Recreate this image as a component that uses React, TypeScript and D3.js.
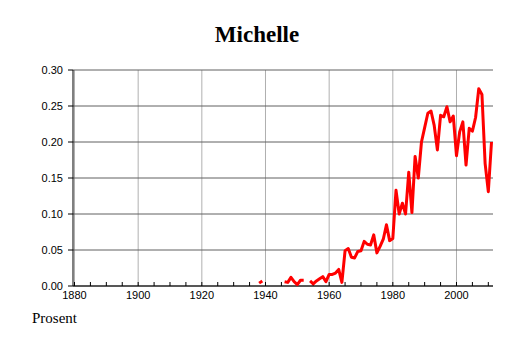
import React from "react";
import * as d3 from "d3";

const years: number[] = d3.range(1938, 2012);
const knownYears: number[] = [
  1938, 1939,
  1946, 1947, 1948, 1949, 1950, 1951, 1952,
  1954, 1955, 1956, 1957, 1958, 1959, 1960, 1961, 1962, 1963, 1964, 1965, 1966,
  1967, 1968, 1969, 1970, 1971, 1972, 1973, 1974, 1975, 1976, 1977, 1978, 1979,
  1980, 1981, 1982, 1983, 1984, 1985, 1986, 1987, 1988, 1989, 1990, 1991, 1992,
  1993, 1994, 1995, 1996, 1997, 1998, 1999, 2000, 2001, 2002, 2003, 2004, 2005,
  2006, 2007, 2008, 2009, 2010, 2011,
];
const knownValues: number[] = [
  0.004, 0.007,
  0.006, 0.005, 0.012, 0.006, 0.002, 0.008, 0.008,
  0.007, 0.003, 0.007, 0.010, 0.013, 0.006, 0.016, 0.016, 0.018, 0.023, 0.005, 0.049, 0.052,
  0.040, 0.039, 0.048, 0.049, 0.062, 0.058, 0.057, 0.071, 0.046, 0.055, 0.065, 0.085, 0.063,
  0.066, 0.133, 0.100, 0.115, 0.100, 0.158, 0.102, 0.180, 0.150, 0.200, 0.220, 0.240, 0.243,
  0.223, 0.189, 0.237, 0.235, 0.249, 0.228, 0.236, 0.181, 0.214, 0.228, 0.168, 0.219, 0.215,
  0.234, 0.274, 0.266, 0.170, 0.131, 0.200,
];
const xTickLabels: number[] = [1880, 1900, 1920, 1940, 1960, 1980, 2000];
const yTickValues: number[] = [0, 0.05, 0.1, 0.15, 0.2, 0.25, 0.3];
const title = "Michelle";
const yLabel = "Prosent";

type Pt = { year: number; v: number | null };

export default function App() {
  const valueByYear = new Map<number, number>();
  knownYears.forEach((y, i) => valueByYear.set(y, knownValues[i]));
  const data: Pt[] = years.map((y) => ({ year: y, v: valueByYear.has(y) ? valueByYear.get(y)! : null }));

  const left = 73;
  const right = 493;
  const x = d3.scaleLinear().domain([1880, 2011]).range([74.5, 491.5]);
  const y = d3.scaleLinear().domain([0, 0.3]).range([286, 70]);

  const line = d3
    .line<Pt>()
    .defined((d) => d.v != null)
    .x((d) => x(d.year))
    .y((d) => y(d.v as number));

  const minorTicks = d3.range(1880, 2012, 5);
  const sans = "'Liberation Sans', Arial, Helvetica, sans-serif";
  const serif = "'Liberation Serif', 'Times New Roman', serif";

  return (
    <svg
      width={514}
      height={343}
      style={{ position: "absolute", left: 0, top: 0, background: "#fff" }}
    >
      <rect x={0} y={0} width={514} height={343} fill="#fff" />
      <text x={257} y={42} textAnchor="middle" fontFamily={serif} fontWeight="bold" fontSize={23}>
        {title}
      </text>
      {/* vertical gridlines */}
      {xTickLabels.map((t) => (
        <line key={"vg" + t} x1={x(t)} x2={x(t)} y1={y(0.3)} y2={y(0)} stroke="#b0b0b0" strokeWidth={1} />
      ))}
      {/* horizontal gridlines */}
      {yTickValues.map((t) => (
        <line key={"hg" + t} x1={left} x2={right} y1={y(t)} y2={y(t)} stroke="#606060" strokeWidth={1} />
      ))}
      {/* x axis */}
      <line x1={left} x2={right} y1={y(0)} y2={y(0)} stroke="#000" strokeWidth={1} />
      {minorTicks.map((t) => (
        <line key={"mt" + t} x1={x(t)} x2={x(t)} y1={y(0)} y2={y(0) - 4} stroke="#000" strokeWidth={1} />
      ))}
      {xTickLabels.map((t) => (
        <text key={"xl" + t} x={x(t)} y={299} textAnchor="middle" fontFamily={sans} fontSize={11}>
          {t}
        </text>
      ))}
      {/* y axis */}
      <line x1={left} x2={left} y1={y(0.3)} y2={y(0)} stroke="#000" strokeWidth={1} />
      {yTickValues.map((t) => (
        <g key={"yt" + t}>
          <line x1={left - 5} x2={left} y1={y(t)} y2={y(t)} stroke="#000" strokeWidth={1} />
          <text x={63} y={y(t) + 4} textAnchor="end" fontFamily={sans} fontSize={11}>
            {d3.format(".2f")(t)}
          </text>
        </g>
      ))}
      <path d={line(data) || ""} fill="none" stroke="#ff0000" strokeWidth={3} strokeLinejoin="round" strokeLinecap="butt" />
      <text x={32} y={323} fontFamily={serif} fontSize={15}>
        {yLabel}
      </text>
    </svg>
  );
}
